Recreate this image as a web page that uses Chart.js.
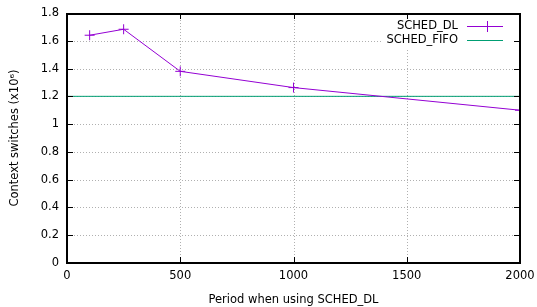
<!DOCTYPE html>
<html>
<head>
<meta charset="utf-8">
<script src="https://cdn.jsdelivr.net/npm/chart.js@4.4.1/dist/chart.umd.min.js"></script>
<style>
  html, body { margin: 0; padding: 0; background: #fff; }
  #wrap { width: 537px; height: 307px; position: relative; }
</style>
</head>
<body>
<div id="wrap"><canvas id="ctxChart"></canvas></div>
<script>
// data
const periods = [100, 250, 500, 1000, 2000];
const dlSwitches = [1.64, 1.683, 1.38, 1.263, 1.10];
const fifoPeriods = [0, 2000];
const fifoSwitches = [1.2, 1.2];

const xTicks = [0, 500, 1000, 1500, 2000];
const yTicks = [0, 0.2, 0.4, 0.6, 0.8, 1, 1.2, 1.4, 1.6, 1.8];

const seriesNames = ['SCHED_DL', 'SCHED_FIFO'];
const seriesColors = ['#9400d3', '#009e73'];

const FONT = "'DejaVu Sans', sans-serif";
const FONT_SIZE = 11.5;
const TICK_LEN = 6;

// gnuplot-ish frame: dotted grid, inward mirrored ticks, border, boxed key
const gnuFrame = {
  id: 'gnuFrame',
  beforeDatasetsDraw(chart) {
    const { ctx, chartArea: a, scales: { x, y } } = chart;
    ctx.save();
    // dotted grid drawn as single pixels (no line dash)
    ctx.fillStyle = '#b0b0b0';
    xTicks.slice(1, -1).forEach(v => {
      const px = Math.round(x.getPixelForValue(v));
      for (let py = a.top + 1; py < a.bottom; py += 3) ctx.fillRect(px, py, 1, 1);
    });
    yTicks.slice(1, -1).forEach(v => {
      const py = Math.round(y.getPixelForValue(v));
      for (let px = a.left + 1; px < a.right; px += 3) ctx.fillRect(px, py, 1, 1);
    });
    // key box covers grid
    ctx.fillStyle = '#fff';
    ctx.fillRect(383, a.top + 1, a.right - 384, 34);
    ctx.restore();
  },
  afterDatasetsDraw(chart) {
    const { ctx, chartArea: a, scales: { x, y } } = chart;
    ctx.save();
    ctx.fillStyle = '#000';
    const L = Math.round(a.left), R = Math.round(a.right);
    const T = Math.round(a.top), B = Math.round(a.bottom);
    xTicks.forEach(v => {
      const px = Math.round(x.getPixelForValue(v));
      ctx.fillRect(px, B - TICK_LEN, 1, TICK_LEN);
      ctx.fillRect(px, T, 1, TICK_LEN);
    });
    yTicks.forEach(v => {
      const py = Math.round(y.getPixelForValue(v));
      ctx.fillRect(L, py, TICK_LEN, 1);
      ctx.fillRect(R - TICK_LEN, py, TICK_LEN, 1);
    });
    // border
    ctx.fillRect(L - 1, T, R - L + 2, 2);
    ctx.fillRect(L - 1, B - 1, R - L + 2, 2);
    ctx.fillRect(L - 1, T, 2, B - T + 1);
    ctx.fillRect(R - 1, T, 2, B - T + 1);

    // key
    ctx.font = FONT_SIZE + 'px ' + FONT;
    ctx.textAlign = 'right';
    ctx.textBaseline = 'middle';
    seriesNames.forEach((name, i) => {
      const ky = T + 13 + i * 14;
      ctx.fillStyle = '#000';
      ctx.fillText(name, 458, ky);
      ctx.fillStyle = seriesColors[i];
      ctx.fillRect(467, ky, 36, 1);
      if (i === 0) {
        ctx.fillRect(482, ky, 11, 1);
        ctx.fillRect(487, ky - 5, 1, 11);
      }
    });
    ctx.restore();
  }
};

new Chart(document.getElementById('ctxChart'), {
  type: 'line',
  data: {
    datasets: [
      {
        label: seriesNames[0],
        data: periods.map((p, i) => ({ x: p, y: dlSwitches[i] })),
        borderColor: seriesColors[0],
        backgroundColor: seriesColors[0],
        borderWidth: 1,
        pointStyle: 'cross',
        pointRadius: 5,
        pointBorderWidth: 1,
        fill: false,
        tension: 0
      },
      {
        label: seriesNames[1],
        data: fifoPeriods.map((p, i) => ({ x: p, y: fifoSwitches[i] })),
        borderColor: seriesColors[1],
        borderWidth: 1,
        pointRadius: 0,
        fill: false,
        tension: 0
      }
    ]
  },
  options: {
    responsive: true,
    maintainAspectRatio: false,
    animation: false,
    layout: { padding: { left: 0, right: 17, top: 13, bottom: 0 } },
    plugins: {
      legend: { display: false },
      tooltip: { enabled: false }
    },
    scales: {
      x: {
        type: 'linear',
        min: 0,
        max: 2000,
        afterBuildTicks: s => { s.ticks = xTicks.map(v => ({ value: v })); },
        afterFit: s => { s.height = 44; s.paddingLeft = 0; s.paddingRight = 0; },
        grid: { display: false, drawTicks: false },
        border: { display: false },
        ticks: {
          color: '#000',
          padding: 6,
          maxRotation: 0,
          font: { family: FONT, size: FONT_SIZE },
          callback: v => String(v)
        },
        title: {
          display: true,
          text: 'Period when using SCHED_DL',
          color: '#000',
          padding: { top: 2, bottom: 0 },
          font: { family: FONT, size: FONT_SIZE }
        }
      },
      y: {
        min: 0,
        max: 1.8,
        afterBuildTicks: s => { s.ticks = yTicks.map(v => ({ value: v })); },
        afterFit: s => { s.width = 67; s.paddingTop = 0; s.paddingBottom = 0; },
        grid: { display: false, drawTicks: false },
        border: { display: false },
        ticks: {
          color: '#000',
          padding: 8,
          font: { family: FONT, size: FONT_SIZE },
          callback: v => String(+v.toFixed(1))
        },
        title: {
          display: true,
          text: 'Context switches (x10\u2076)',
          color: '#000',
          padding: { top: 8, bottom: 0 },
          font: { family: FONT, size: FONT_SIZE }
        }
      }
    }
  },
  plugins: [gnuFrame]
});
</script>
</body>
</html>
